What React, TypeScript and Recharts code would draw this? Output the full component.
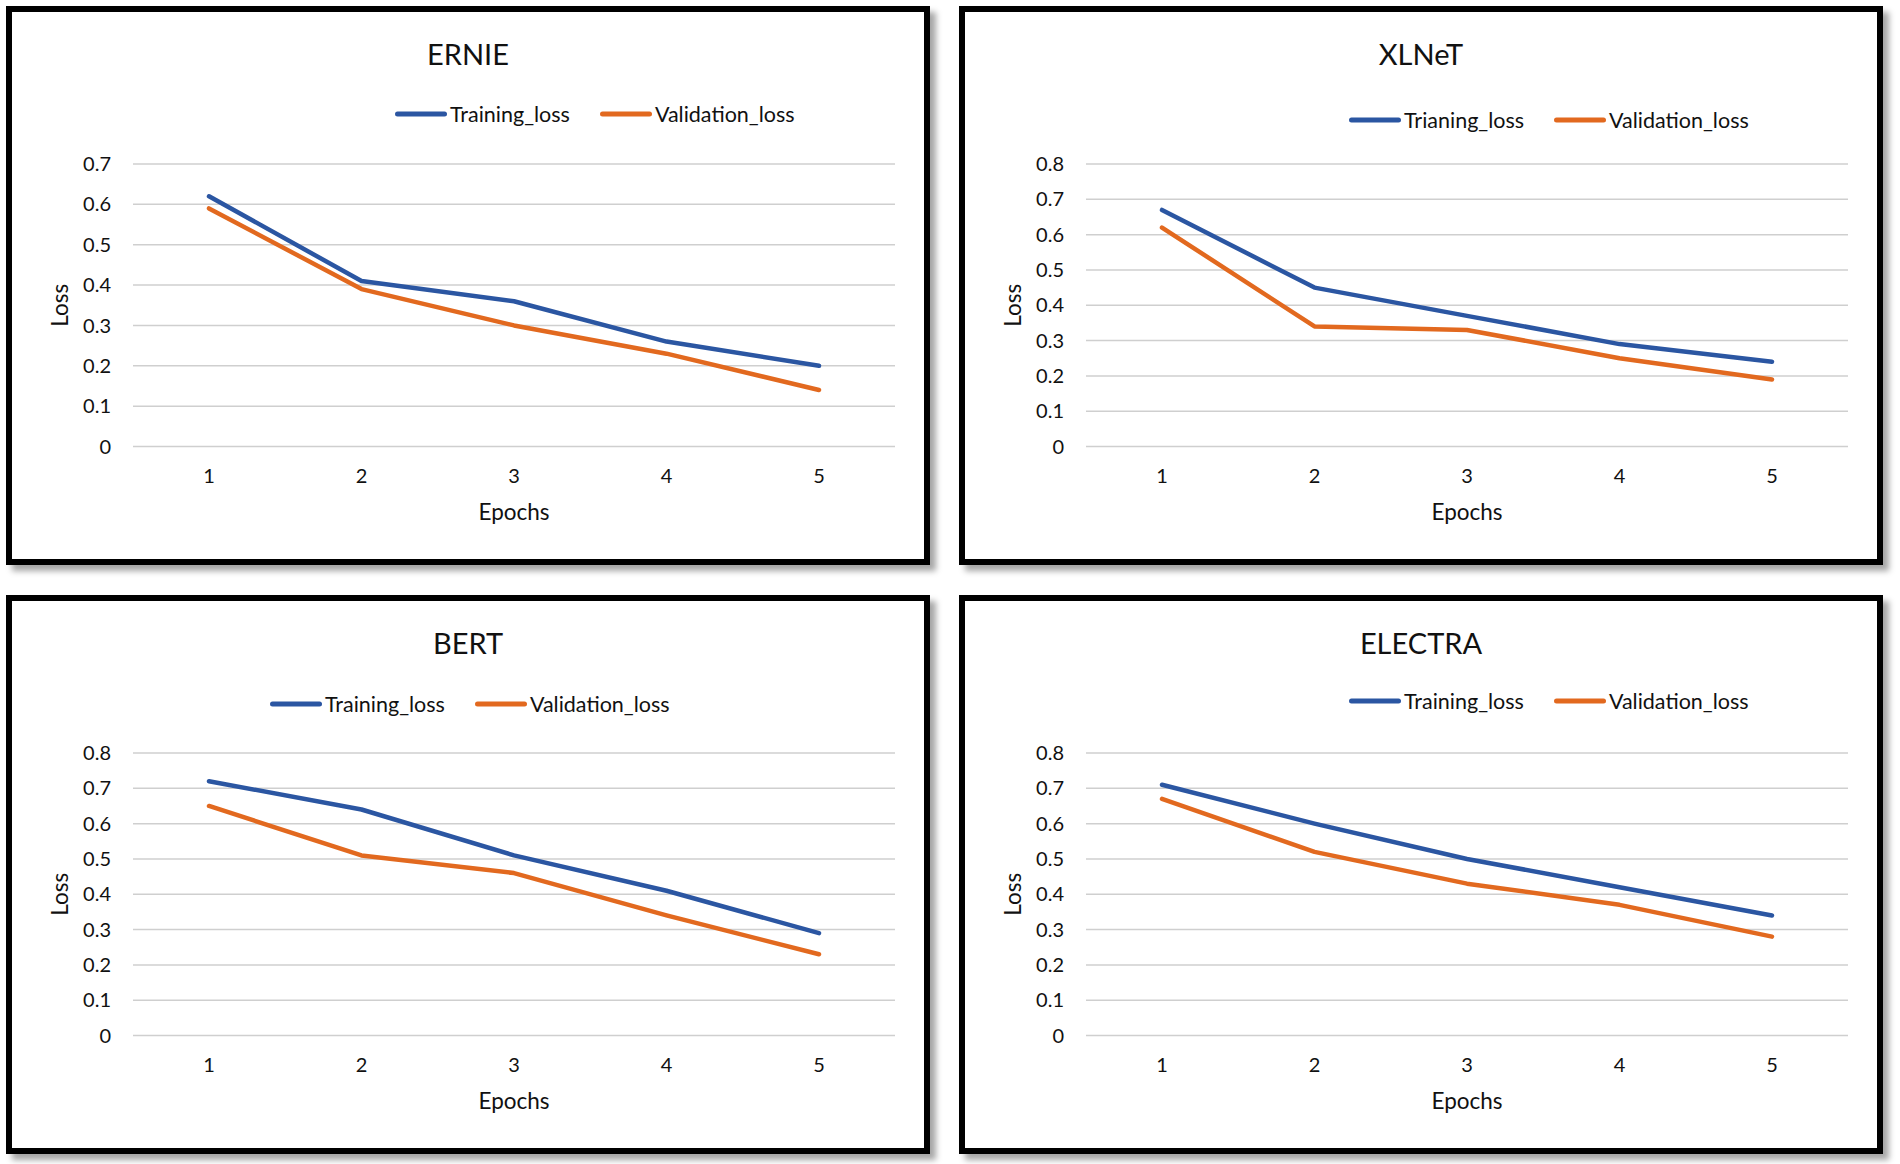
import React from 'react'
import { LineChart, Line, XAxis, YAxis, CartesianGrid, Legend, Label } from 'recharts'

const epochs = [1, 2, 3, 4, 5]

const ernieTraining = [0.62, 0.41, 0.36, 0.26, 0.2]
const ernieValidation = [0.59, 0.39, 0.3, 0.23, 0.14]

const xlnetTraining = [0.67, 0.45, 0.37, 0.29, 0.24]
const xlnetValidation = [0.62, 0.34, 0.33, 0.25, 0.19]

const bertTraining = [0.72, 0.64, 0.51, 0.41, 0.29]
const bertValidation = [0.65, 0.51, 0.46, 0.34, 0.23]

const electraTraining = [0.71, 0.6, 0.5, 0.42, 0.34]
const electraValidation = [0.67, 0.52, 0.43, 0.37, 0.28]

const ticksTo07 = [0, 0.1, 0.2, 0.3, 0.4, 0.5, 0.6, 0.7]
const ticksTo08 = [0, 0.1, 0.2, 0.3, 0.4, 0.5, 0.6, 0.7, 0.8]

const BLUE = '#2b56a2'
const ORANGE = '#e2691f'
const TEXT = '#111'
const FONT = 'Lato, "Open Sans", sans-serif'

// inner (content box) size of each framed panel
const W = 912
const H = 547

function LossLegend({ payload }: any) {
  return (
    <div style={{ display: 'flex', alignItems: 'center', whiteSpace: 'nowrap', lineHeight: '24px' }}>
      {(payload || []).map((p: any, i: number) => (
        <div
          key={p.value}
          style={{ display: 'flex', alignItems: 'center', marginRight: i === 0 ? 30 : 0 }}
        >
          <svg width={52} height={8}>
            <line x1={2.5} y1={4} x2={49.5} y2={4} stroke={p.color} strokeWidth={5} strokeLinecap="round" />
          </svg>
          <span style={{ marginLeft: 3, fontSize: 21.5, color: TEXT }}>{p.value}</span>
        </div>
      ))}
    </div>
  )
}

type PanelProps = {
  title: string
  trainName: string
  training: number[]
  validation: number[]
  ticks: number[]
  left: number
  top: number
  legendX: number
  legendY: number
}

function Panel({ title, trainName, training, validation, ticks, left, top, legendX, legendY }: PanelProps) {
  const rows = epochs.map((e, i) => ({ epoch: e, training: training[i], validation: validation[i] }))
  return (
    <div
      style={{
        position: 'absolute',
        left,
        top,
        width: W,
        height: H,
        border: '6px solid #000',
        background: '#fff',
        boxShadow: '6px 6px 6px rgba(0,0,0,0.35)',
      }}
    >
      <div
        style={{
          position: 'absolute',
          left: 0,
          top: 24,
          width: W,
          textAlign: 'center',
          fontSize: 29,
          lineHeight: '36px',
          color: TEXT,
          zIndex: 2,
        }}
      >
        {title}
      </div>
      <LineChart width={W} height={H} data={rows} margin={{ top: 152, right: 29, left: 0, bottom: 54.5 }}>
        <CartesianGrid vertical={false} stroke="#cfcfcf" strokeWidth={1.5} />
        <XAxis
          dataKey="epoch"
          type="category"
          interval={0}
          padding={{ left: 76, right: 76 }}
          axisLine={false}
          tickLine={false}
          tickSize={0}
          tickMargin={22}
          height={58}
          tick={{ fill: TEXT, fontSize: 20 }}
        >
          <Label value="Epochs" position="bottom" offset={0} fill={TEXT} fontSize={22.5} />
        </XAxis>
        <YAxis
          type="number"
          domain={[0, ticks[ticks.length - 1]]}
          ticks={ticks}
          interval={0}
          width={121}
          axisLine={false}
          tickLine={false}
          tickSize={0}
          tickMargin={22}
          tick={{ fill: TEXT, fontSize: 20 }}
          tickFormatter={(v: number) => (v === 0 ? '0' : v.toFixed(1))}
        >
          <Label
            value="Loss"
            angle={-90}
            position="insideLeft"
            offset={48}
            fill={TEXT}
            fontSize={22.5}
            style={{ textAnchor: 'middle' }}
          />
        </YAxis>
        <Legend
          layout="vertical"
          align="center"
          verticalAlign="middle"
          content={<LossLegend />}
          wrapperStyle={{ left: legendX - 6, top: legendY - 6 - 12, width: 'auto', height: 'auto' }}
        />
        <Line
          type="linear"
          dataKey="training"
          name={trainName}
          stroke={BLUE}
          strokeWidth={4.5}
          strokeLinecap="round"
          strokeLinejoin="round"
          dot={false}
          activeDot={false}
          isAnimationActive={false}
        />
        <Line
          type="linear"
          dataKey="validation"
          name="Validation_loss"
          stroke={ORANGE}
          strokeWidth={4.5}
          strokeLinecap="round"
          strokeLinejoin="round"
          dot={false}
          activeDot={false}
          isAnimationActive={false}
        />
      </LineChart>
    </div>
  )
}

export default function App() {
  return (
    <div
      style={{
        position: 'absolute',
        left: 0,
        top: 0,
        width: 1900,
        height: 1164,
        background: '#fff',
        fontFamily: FONT,
        overflow: 'hidden',
      }}
    >
      <Panel
        title="ERNIE"
        trainName="Training_loss"
        training={ernieTraining}
        validation={ernieValidation}
        ticks={ticksTo07}
        left={6}
        top={6}
        legendX={389}
        legendY={108}
      />
      <Panel
        title="XLNeT"
        trainName="Trianing_loss"
        training={xlnetTraining}
        validation={xlnetValidation}
        ticks={ticksTo08}
        left={959}
        top={6}
        legendX={390}
        legendY={114}
      />
      <Panel
        title="BERT"
        trainName="Training_loss"
        training={bertTraining}
        validation={bertValidation}
        ticks={ticksTo08}
        left={6}
        top={595}
        legendX={264}
        legendY={109}
      />
      <Panel
        title="ELECTRA"
        trainName="Training_loss"
        training={electraTraining}
        validation={electraValidation}
        ticks={ticksTo08}
        left={959}
        top={595}
        legendX={390}
        legendY={106}
      />
    </div>
  )
}
